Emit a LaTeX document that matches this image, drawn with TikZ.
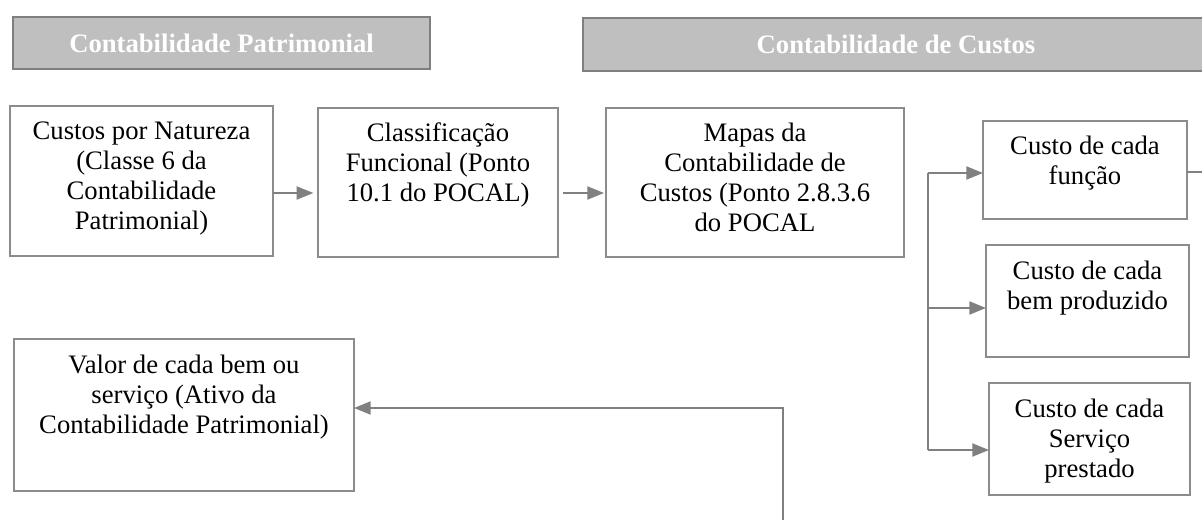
\documentclass[tikz,border=0pt]{standalone}
\usepackage{fontspec}
\setmainfont{Liberation Serif}
\usetikzlibrary{arrows.meta}
\definecolor{hdrfill}{HTML}{BFBFBF}
\definecolor{hdrline}{HTML}{7F7F7F}
\definecolor{boxline}{HTML}{8C8C8C}
\definecolor{arrline}{HTML}{808080}
\newcommand\boxtxt[3]{\parbox[t][\dimexpr #2pt*3/4\relax][t]{\dimexpr #1pt*3/4\relax}{\centering\fontsize{20pt}{22.5pt}\selectfont\rule{0pt}{25.5pt}#3}}
\tikzset{
  pbox/.style={draw=boxline, line width=1.1pt, inner sep=0pt, outer sep=0pt, anchor=north west},
  hdr/.style={fill=hdrfill, draw=hdrline, line width=1.5pt, text=white, inner sep=0pt, anchor=north west,
    font=\fontsize{20pt}{24pt}\selectfont\bfseries},
  conn/.style={draw=arrline, line width=1.5pt},
  arr/.style={conn, -{Triangle[length=12.5pt,width=9.75pt]}}
}
\begin{document}
\begin{tikzpicture}[x=0.75pt,y=-0.75pt]
\useasboundingbox (0,0) rectangle (1202,520);
\clip (0,0) rectangle (1202,520);
% headers
\node[hdr, minimum width=417*0.75pt, minimum height=52*0.75pt] (h1) at (12,16) {Contabilidade Patrimonial};
\node[hdr, minimum width=626*0.75pt, minimum height=53*0.75pt] (h2) at (582,17) {Contabilidade de Custos};
% boxes
\node[pbox] (b1) at (10,106) {\boxtxt{263}{150}{Custos por Natureza\\(Classe 6 da\\Contabilidade\\Patrimonial)}};
\node[pbox] (b2) at (318,108) {\boxtxt{240}{149}{Classificação\\Funcional (Ponto\\10.1 do POCAL)}};
\node[pbox] (b3) at (606,108) {\boxtxt{298}{149}{Mapas da\\Contabilidade de\\Custos (Ponto 2.8.3.6\\do POCAL}};
\node[pbox] (b4) at (983,121) {\boxtxt{204}{98}{Custo de cada\\função}};
\node[pbox] (b5) at (986,245) {\boxtxt{203}{112}{Custo de cada\\bem produzido}};
\node[pbox] (b6) at (989,383) {\boxtxt{201}{112}{Custo de cada\\Serviço\\prestado}};
\node[pbox] (v) at (14,339) {\boxtxt{340}{152}{Valor de cada bem ou\\serviço (Ativo da\\Contabilidade Patrimonial)}};
% connectors
\coordinate (ya) at (0,193);
\draw[arr, shorten >=3.5pt] (b1.east |- ya) -- (b2.west |- ya);
\draw[arr, shorten <=3.75pt, shorten >=1.5pt] (b2.east |- ya) -- (b3.west |- ya);
\coordinate (br1) at (928,173);
\coordinate (br2) at (928,308);
\coordinate (br3) at (928,450);
\draw[conn] (br1) -- (br3);
\draw[arr] (br1) -- (b4.west |- br1);
\draw[arr] (br2) -- (b5.west |- br2);
\draw[arr] (br3) -- (b6.west |- br3);
\coordinate (rs) at (1215,172);
\draw[conn] (b4.east |- rs) -- (rs);
\coordinate (bs) at (783,530);
\coordinate (bt) at (783,408);
\draw[arr] (bs) -- (bt) -- (v.east |- bt);
\end{tikzpicture}
\end{document}
